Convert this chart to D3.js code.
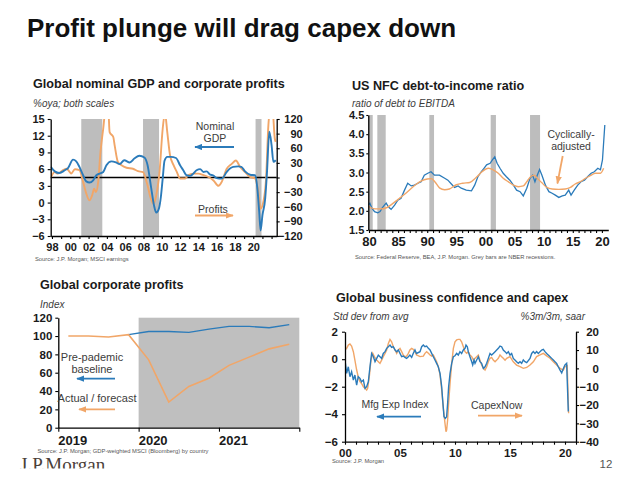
<!DOCTYPE html>
<html><head><meta charset="utf-8">
<script src="https://cdn.jsdelivr.net/npm/d3@7"></script>
<style>body{margin:0;background:#fff}svg{display:block}</style>
</head><body><script>
// ---------------- DATA ----------------
// Panel 1: Global nominal GDP (%oya, left) and corporate profits (%oya, right)
const p1Recessions = [[2001.2, 2003.5], [2007.95, 2009.7], [2020.25, 2020.9]];
const gdpSeries = [[1997.86,6.4],[1998.3,5.6],[1998.8,5.3],[1999.4,5.8],[1999.75,6.2],[2000.3,7.7],[2000.65,7.4],[2001.0,6.4],[2001.4,4.9],[2001.75,3.8],[2002.1,3.6],[2002.5,4.0],[2002.85,4.9],[2003.2,5.2],[2003.6,5.5],[2003.95,6.7],[2004.5,7.4],[2005.0,7.2],[2005.4,6.9],[2005.9,7.6],[2006.5,7.2],[2007.0,7.9],[2007.55,8.4],[2008.1,8.1],[2008.45,6.7],[2008.8,3.1],[2009.15,-0.5],[2009.4,-1.8],[2009.7,-1.0],[2009.9,1.0],[2010.1,4.3],[2010.3,7.5],[2010.6,8.2],[2011.0,8.2],[2011.55,8.0],[2012.0,6.7],[2012.35,5.8],[2012.7,4.9],[2013.1,4.8],[2013.45,5.2],[2013.8,5.8],[2014.2,6.0],[2014.55,5.5],[2014.9,5.6],[2015.3,5.0],[2015.6,4.9],[2016.0,4.4],[2016.55,4.3],[2017.1,5.5],[2017.45,6.1],[2017.8,6.4],[2018.35,6.5],[2018.7,6.4],[2019.1,5.6],[2019.65,5.0],[2020.2,4.9],[2020.45,2.5],[2020.65,-1.7],[2020.8,-5.0],[2021.0,-2.3],[2021.3,0.7],[2021.5,5.5],[2021.75,12.7],[2022.0,10.3],[2022.2,7.3],[2022.45,7.6]];
const profitsSeries = [[1997.9,1],[1998.3,11],[1998.65,8],[1999.2,15],[1999.6,18],[1999.95,11],[2000.1,8],[2000.5,17],[2001.0,15],[2001.4,-9],[2001.75,-33],[2002.1,-47],[2002.4,-36],[2002.6,-23],[2002.8,-30],[2003.05,-9],[2003.3,52],[2003.6,100],[2003.85,138],[2004.15,140],[2004.3,93],[2004.7,83],[2004.85,66],[2005.2,32],[2005.6,25],[2006.15,20],[2006.85,18],[2007.4,13],[2007.95,11],[2008.4,-13],[2008.8,-43],[2009.1,-54],[2009.4,-36],[2009.75,11],[2010.1,100],[2010.35,132],[2010.6,93],[2010.9,46],[2011.3,25],[2011.65,11],[2012.0,-2],[2012.55,-2],[2012.9,5],[2013.45,8],[2014.0,8],[2014.55,5],[2015.1,1],[2015.65,-6],[2016.2,-17],[2016.55,-9],[2017.1,18],[2017.65,28],[2018.1,35],[2018.55,22],[2019.1,11],[2019.65,1],[2020.2,-2],[2020.55,-30],[2020.8,-64],[2021.1,-50],[2021.4,-2],[2021.65,107],[2021.85,140],[2022.1,140],[2022.35,80],[2022.45,73]];
const p1LeftTicks = [-6,-3,0,3,6,9,12,15];
const p1RightTicks = [-120,-90,-60,-30,0,30,60,90,120];
const p1YearLabels = [1998,2000,2002,2004,2006,2008,2010,2012,2014,2016,2018,2020];

// Panel 2: US NFC debt-to-income ratio
const p2Recessions = [[1979.88,1980.64],[1981.43,1982.87],[1990.36,1991.17],[2000.9,2001.8],[2007.66,2009.38]];
const debtActual = [[1979.88,2.15],[1980.15,2.2],[1980.5,2.07],[1980.95,1.98],[1981.5,1.95],[1981.9,1.98],[1982.25,2.07],[1982.65,2.15],[1982.95,2.2],[1983.35,2.1],[1983.8,2.04],[1984.4,2.15],[1984.95,2.28],[1985.5,2.33],[1986.1,2.54],[1986.65,2.72],[1987.25,2.65],[1987.8,2.67],[1988.4,2.72],[1988.95,2.76],[1989.5,2.93],[1990.1,2.98],[1990.65,3.02],[1991.25,2.93],[1992.1,2.93],[1993.0,2.85],[1993.55,2.8],[1994.15,2.7],[1994.7,2.61],[1995.3,2.65],[1995.85,2.59],[1996.7,2.54],[1997.6,2.52],[1998.15,2.67],[1998.7,2.89],[1999.3,3.02],[1999.75,3.11],[2000.2,3.2],[2000.8,3.24],[2001.2,3.33],[2001.6,3.41],[2002.0,3.24],[2002.5,3.11],[2003.05,2.98],[2003.6,2.89],[2004.2,2.8],[2004.8,2.67],[2005.35,2.54],[2005.95,2.5],[2006.5,2.39],[2007.1,2.59],[2007.65,2.85],[2008.1,2.93],[2008.5,2.76],[2008.9,2.93],[2009.3,3.08],[2009.7,2.93],[2010.3,2.67],[2010.9,2.5],[2011.45,2.46],[2012.0,2.41],[2012.6,2.35],[2013.2,2.39],[2013.7,2.41],[2014.3,2.54],[2014.7,2.41],[2015.25,2.54],[2015.85,2.67],[2016.4,2.76],[2017.0,2.8],[2017.55,2.89],[2018.15,2.98],[2018.7,3.02],[2019.3,3.11],[2019.75,3.07],[2020.1,3.33],[2020.5,4.24]];
const debtCyclical = [[1979.9,2.12],[1981,2.05],[1982,2.05],[1983,2.08],[1984,2.18],[1985,2.3],[1986,2.42],[1987,2.55],[1988,2.68],[1989,2.78],[1990,2.83],[1990.7,2.84],[1991.3,2.76],[1992.1,2.6],[1993,2.55],[1993.8,2.57],[1995,2.68],[1996.1,2.72],[1997.3,2.74],[1998.4,2.87],[1999.4,3.02],[2000.5,3.11],[2001.3,3.07],[2002.2,2.98],[2003.05,2.85],[2003.9,2.76],[2004.8,2.67],[2005.65,2.63],[2006.5,2.65],[2007.1,2.76],[2007.75,2.89],[2008.35,2.93],[2008.9,2.85],[2009.7,2.73],[2010.55,2.61],[2011.45,2.57],[2012.6,2.56],[2013.7,2.57],[2014.6,2.61],[2015.4,2.7],[2016.3,2.76],[2017.2,2.85],[2018.0,2.92],[2018.9,2.98],[2019.75,2.98],[2020.3,3.11]];
const p2Ticks = [1.5,2.0,2.5,3.0,3.5,4.0,4.5];

// Panel 3: Global corporate profits index (quarterly, 2019Q1-2021Q4)
const p3Quarters = [2019.125,2019.375,2019.625,2019.875,2020.125,2020.375,2020.625,2020.875,2021.125,2021.375,2021.625,2021.875];
const actualForecast = [100,100,99,101.5,74,28,45,54,68,77,86,91];
const prePandemic = [null,null,null,101.5,105,105,104,107.5,110.5,110.5,109,112.5];
const p3Years = [2019,2020,2021];
const p3Ticks = [0,20,40,60,80,100,120];

// Panel 4: Global business confidence (std dev, left) and CapexNow (%3m/3m saar, right)
const mfgExp = [[2000.0,-0.06],[2000.15,-1.03],[2000.3,-0.55],[2000.45,-1.27],[2000.6,-0.91],[2000.76,-1.52],[2000.9,-1.15],[2001.06,-1.88],[2001.2,-1.27],[2001.36,-1.39],[2001.5,-1.64],[2001.67,-1.52],[2001.82,-2.12],[2001.97,-2.0],[2002.12,-1.64],[2002.27,-0.55],[2002.42,0.42],[2002.58,0.18],[2002.73,-0.18],[2002.88,0.06],[2003.03,0.3],[2003.18,0.18],[2003.33,0.06],[2003.48,0.42],[2003.64,0.55],[2003.79,0.79],[2003.94,0.91],[2004.09,1.03],[2004.24,0.86],[2004.39,0.91],[2004.55,0.67],[2004.7,0.55],[2004.85,0.67],[2005.0,0.42],[2005.15,0.18],[2005.3,0.23],[2005.45,0.13],[2005.6,0.06],[2005.76,0.18],[2005.9,0.3],[2006.06,0.13],[2006.2,0.42],[2006.36,0.67],[2006.5,0.42],[2006.82,0.55],[2006.97,0.91],[2007.12,1.03],[2007.27,0.91],[2007.42,0.96],[2007.58,0.79],[2007.73,0.67],[2007.88,0.42],[2008.03,0.18],[2008.18,-0.06],[2008.33,-0.3],[2008.48,-0.55],[2008.64,-1.03],[2008.79,-2.0],[2008.88,-2.97],[2009.0,-4.18],[2009.12,-4.3],[2009.24,-4.18],[2009.33,-3.21],[2009.42,-2.0],[2009.55,-1.03],[2009.7,-0.3],[2009.85,0.18],[2010.0,0.25],[2010.15,0.42],[2010.3,0.3],[2010.45,0.55],[2010.6,0.42],[2010.76,0.67],[2010.91,0.79],[2011.0,1.03],[2011.12,0.91],[2011.21,0.55],[2011.36,0.18],[2011.52,-0.18],[2011.61,-0.42],[2011.73,-0.06],[2011.82,-0.3],[2011.97,-0.06],[2012.12,0.18],[2012.27,-0.18],[2012.42,-0.3],[2012.58,-0.67],[2012.73,-0.55],[2012.88,-0.3],[2013.03,0.06],[2013.18,0.42],[2013.33,0.3],[2013.48,0.42],[2013.64,0.55],[2013.79,0.67],[2013.94,0.79],[2014.09,0.96],[2014.24,0.91],[2014.39,0.67],[2014.55,0.55],[2014.7,0.42],[2014.85,0.55],[2015.0,0.3],[2015.15,0.42],[2015.3,0.06],[2015.45,-0.06],[2015.6,-0.18],[2015.76,-0.3],[2015.91,-0.18],[2016.06,-0.3],[2016.21,-0.06],[2016.36,-0.18],[2016.52,-0.25],[2016.82,0.06],[2016.97,0.42],[2017.12,0.55],[2017.27,0.42],[2017.42,0.55],[2017.58,0.42],[2017.73,0.55],[2017.88,0.67],[2018.03,0.72],[2018.18,0.55],[2018.33,0.42],[2018.48,0.3],[2018.64,0.18],[2018.79,0.06],[2018.94,-0.06],[2019.09,-0.18],[2019.24,-0.3],[2019.39,-0.55],[2019.55,-0.79],[2019.7,-1.0],[2019.85,-0.67],[2020.0,-0.42],[2020.15,-0.3],[2020.3,-3.8]];
const capexNow = [[2000.0,10],[2000.15,10.9],[2000.3,12.7],[2000.45,13.3],[2000.6,12.2],[2000.76,9.1],[2000.9,4.5],[2001.06,-0.9],[2001.2,-4.5],[2001.36,-7.3],[2001.5,-8.2],[2001.67,-10],[2001.82,-10.9],[2001.97,-11.8],[2002.06,-10.9],[2002.21,-4.5],[2002.36,4.5],[2002.52,8.2],[2002.67,6.4],[2002.88,4.5],[2003.03,3.6],[2003.18,2.7],[2003.33,4.5],[2003.48,6.4],[2003.64,8.2],[2003.79,10],[2003.94,13.6],[2004.09,15.8],[2004.24,14.5],[2004.39,11.8],[2004.55,10],[2004.7,8.2],[2004.85,10],[2005.0,10.9],[2005.15,9.1],[2005.3,7.3],[2005.45,6.4],[2005.6,6.7],[2005.76,8.2],[2005.9,10],[2006.06,10.9],[2006.2,10.4],[2006.36,9.1],[2006.5,7.3],[2006.82,6.4],[2007.12,6.7],[2007.27,8.2],[2007.42,9.1],[2007.58,8.2],[2007.73,7.3],[2007.88,6.7],[2008.03,7.3],[2008.18,5.5],[2008.33,3.6],[2008.48,0.9],[2008.64,-3.6],[2008.79,-11.8],[2008.94,-21.8],[2009.09,-30],[2009.18,-34.5],[2009.24,-33.6],[2009.33,-28.2],[2009.42,-19.1],[2009.55,-8.2],[2009.7,2.7],[2009.85,10.9],[2010.0,14.5],[2010.15,15.5],[2010.3,15.8],[2010.45,15.8],[2010.6,14.5],[2010.76,11.8],[2010.91,9.1],[2011.06,8.2],[2011.21,9.1],[2011.36,7.3],[2011.52,6.4],[2011.67,4.5],[2011.82,5.5],[2011.97,6.4],[2012.12,7.3],[2012.27,4.5],[2012.42,1.8],[2012.58,0],[2012.73,-0.9],[2012.88,0.9],[2013.03,3.6],[2013.18,5.5],[2013.33,6],[2013.48,4.5],[2013.64,3.6],[2013.79,4.5],[2013.94,5.5],[2014.09,7.3],[2014.24,6.4],[2014.39,5.5],[2014.55,4.5],[2014.7,5.5],[2015.0,6.4],[2015.3,3.6],[2015.6,1.8],[2015.91,0.9],[2016.21,0],[2016.52,0.5],[2016.82,1.8],[2017.12,3.6],[2017.42,6.4],[2017.73,7.3],[2018.03,8.2],[2018.33,6.8],[2018.64,5.5],[2018.94,3.6],[2019.24,1.8],[2019.55,0],[2019.85,-0.9],[2020.0,0.9],[2020.2,1.5],[2020.33,-24.5]];
const p4LeftTicks = [-6,-4,-2,0,2];
const p4RightTicks = [-40,-30,-20,-10,0,10,20];

// ---------------- DRAWING ----------------
const FONT = '"Liberation Sans", Arial, sans-serif';
const BLUE = '#2b7bba', ORANGE = '#f1a668', GREY = '#bdbdbd', TXT = '#1a1a1a', SUB = '#3c3c3c';
const svg = d3.select('body').append('svg').attr('width', 630).attr('height', 486).style('background', '#fff');
const defs = svg.append('defs');
[['blue', BLUE], ['orange', ORANGE]].forEach(([n, c]) => {
  defs.append('marker').attr('id', 'arr-' + n).attr('viewBox', '0 0 10 8').attr('refX', 9).attr('refY', 4)
    .attr('markerWidth', 8).attr('markerHeight', 6.5).attr('markerUnits', 'userSpaceOnUse').attr('orient', 'auto')
    .append('path').attr('d', 'M0,0L10,4L0,8Z').attr('fill', c);
});
function text(x, y, s, o = {}) {
  return svg.append('text').attr('x', x).attr('y', y).text(s)
    .attr('font-family', o.family || FONT).attr('font-size', o.size || 10)
    .attr('font-weight', o.weight || 'normal').attr('font-style', o.style || 'normal')
    .attr('fill', o.fill || TXT).attr('text-anchor', o.anchor || 'start');
}
function arrow(x1, y1, x2, y2, color, name) {
  svg.append('line').attr('x1', x1).attr('y1', y1).attr('x2', x2).attr('y2', y2)
    .attr('stroke', color).attr('stroke-width', 1.8).attr('marker-end', `url(#arr-${name})`);
}
function clip(id, p) {
  defs.append('clipPath').attr('id', id).append('rect').attr('x', p.l).attr('y', p.t).attr('width', p.r - p.l).attr('height', p.b - p.t);
}
function styleAxis(g, size) {
  g.attr('font-family', FONT);
  g.select('.domain').attr('stroke', '#000').attr('stroke-width', 1.3);
  g.selectAll('.tick line').attr('stroke', '#000').attr('stroke-width', 1.1);
  g.selectAll('.tick text').attr('font-size', size).attr('font-weight', 'bold').attr('fill', TXT);
  return g;
}
const pad2 = d => String(((d % 100) + 100) % 100).padStart(2, '0');

// Main title
text(27, 37, 'Profit plunge will drag capex down', { size: 26, weight: 'bold', fill: '#111' });

// ===== Panel 1 =====
{
  const p = { l: 50.7, r: 276.7, t: 119, b: 236 };
  clip('c1', p);
  const x = d3.scaleLinear().domain([1997.86, 2022.56]).range([p.l, p.r]);
  const yL = d3.scaleLinear().domain([-6, 15]).range([p.b, p.t]);
  const yR = d3.scaleLinear().domain([-120, 120]).range([p.b, p.t]);
  svg.append('g').selectAll('rect').data(p1Recessions).join('rect')
    .attr('x', d => x(d[0])).attr('width', d => x(d[1]) - x(d[0])).attr('y', p.t).attr('height', p.b - p.t).attr('fill', GREY);
  svg.append('line').attr('x1', p.l).attr('x2', p.r).attr('y1', yR(0)).attr('y2', yR(0)).attr('stroke', '#000').attr('stroke-width', 1.3);
  const lg = svg.append('g').attr('clip-path', 'url(#c1)');
  lg.append('path').datum(profitsSeries).attr('fill', 'none').attr('stroke', ORANGE).attr('stroke-width', 1.9)
    .attr('d', d3.line().x(d => x(d[0])).y(d => yR(d[1])).curve(d3.curveMonotoneX));
  lg.append('path').datum(gdpSeries).attr('fill', 'none').attr('stroke', BLUE).attr('stroke-width', 1.9)
    .attr('d', d3.line().x(d => x(d[0])).y(d => yL(d[1])).curve(d3.curveMonotoneX));
  styleAxis(svg.append('g').attr('transform', `translate(${p.l},0)`)
    .call(d3.axisLeft(yL).tickValues(p1LeftTicks).tickSize(3).tickSizeOuter(0).tickPadding(3)), 11);
  const gr = styleAxis(svg.append('g').attr('transform', `translate(${p.r},0)`)
    .call(d3.axisRight(yR).tickValues(p1RightTicks).tickSize(3).tickSizeOuter(0).tickPadding(3)), 11);
  gr.selectAll('.tick text').attr('text-anchor', 'end').attr('x', 26);
  styleAxis(svg.append('g').attr('transform', `translate(0,${p.b})`)
    .call(d3.axisBottom(x).tickValues(d3.range(1998, 2023)).tickSize(3).tickSizeOuter(0).tickPadding(4)
      .tickFormat(d => p1YearLabels.includes(d) ? pad2(d) : '')), 11);
  text(33, 88, 'Global nominal GDP and corporate profits', { size: 12.6, weight: 'bold' });
  text(33, 107, '%oya; both scales', { size: 10, style: 'italic', fill: SUB });
  text(35, 260.5, 'Source: J.P. Morgan; MSCI earnings', { size: 5.8, fill: '#555' });
  text(215, 130, 'Nominal', { size: 10.5, anchor: 'middle', fill: SUB });
  text(215, 142, 'GDP', { size: 10.5, anchor: 'middle', fill: SUB });
  arrow(234, 147, 195, 147, BLUE, 'blue');
  text(213, 212.5, 'Profits', { size: 10.5, anchor: 'middle', fill: SUB });
  arrow(195, 215.5, 233, 215.5, ORANGE, 'orange');
}

// ===== Panel 2 =====
{
  const p = { l: 368.3, r: 608.3, t: 115, b: 230 };
  clip('c2', p);
  const x = d3.scaleLinear().domain([1979.88, 2021.1]).range([p.l, p.r]);
  const y = d3.scaleLinear().domain([1.5, 4.5]).range([p.b, p.t]);
  svg.append('g').selectAll('rect').data(p2Recessions).join('rect')
    .attr('x', d => x(d[0])).attr('width', d => x(d[1]) - x(d[0])).attr('y', p.t).attr('height', p.b - p.t).attr('fill', GREY);
  const lg = svg.append('g').attr('clip-path', 'url(#c2)');
  lg.append('path').datum(debtActual).attr('fill', 'none').attr('stroke', BLUE).attr('stroke-width', 1.3)
    .attr('d', d3.line().x(d => x(d[0])).y(d => y(d[1])));
  lg.append('path').datum(debtCyclical).attr('fill', 'none').attr('stroke', ORANGE).attr('stroke-width', 1.4)
    .attr('d', d3.line().x(d => x(d[0])).y(d => y(d[1])).curve(d3.curveMonotoneX));
  styleAxis(svg.append('g').attr('transform', `translate(${p.l},0)`)
    .call(d3.axisLeft(y).tickValues(p2Ticks).tickSize(2).tickSizeOuter(0).tickPadding(2).tickFormat(d3.format('.1f'))), 11);
  styleAxis(svg.append('g').attr('transform', `translate(0,${p.b})`)
    .call(d3.axisBottom(x).tickValues(d3.range(1980, 2021)).tickSize(3).tickSizeOuter(0).tickPadding(4)
      .tickFormat(d => d % 5 === 0 ? pad2(d) : '')), 13);
  text(352, 89.5, 'US NFC debt-to-income ratio', { size: 12.6, weight: 'bold' });
  text(352, 107, 'ratio of debt to EBITDA', { size: 10, style: 'italic', fill: SUB });
  text(355, 258.5, 'Source: Federal Reserve, BEA, J.P. Morgan. Grey bars are NBER recessions.', { size: 5.8, fill: '#555' });
  text(571, 138, 'Cyclically-', { size: 10.5, anchor: 'middle', fill: SUB });
  text(571, 149.5, 'adjusted', { size: 10.5, anchor: 'middle', fill: SUB });
  arrow(562.7, 156, 557.4, 183.5, ORANGE, 'orange');
}

// ===== Panel 3 =====
{
  const p = { l: 58.3, r: 299.3, t: 317.7, b: 427.7 };
  const x = d3.scaleLinear().domain([2019, 2022]).range([p.l, p.r]);
  const y = d3.scaleLinear().domain([0, 120]).range([p.b, p.t]);
  svg.append('rect').attr('x', x(2020)).attr('width', p.r - x(2020)).attr('y', p.t).attr('height', p.b - p.t).attr('fill', '#bfbfbf');
  const pts = (vals) => p3Quarters.map((q, i) => [q, vals[i]]);
  const line = d3.line().defined(d => d[1] != null).x(d => x(d[0])).y(d => y(d[1]));
  svg.append('path').datum(pts(prePandemic)).attr('fill', 'none').attr('stroke', BLUE).attr('stroke-width', 1.4).attr('d', line);
  svg.append('path').datum(pts(actualForecast)).attr('fill', 'none').attr('stroke', ORANGE).attr('stroke-width', 1.6).attr('d', line);
  styleAxis(svg.append('g').attr('transform', `translate(${p.l},0)`)
    .call(d3.axisLeft(y).tickValues(p3Ticks).tickSize(3).tickSizeOuter(0).tickPadding(3)), 11.5);
  const gb = styleAxis(svg.append('g').attr('transform', `translate(0,${p.b})`)
    .call(d3.axisBottom(x).tickValues([...p3Years, 2022]).tickSize(4).tickSizeOuter(0).tickPadding(4)
      .tickFormat(d => p3Years.includes(d) ? String(d) : '')), 13);
  gb.selectAll('.tick text').attr('dx', 14);
  text(40, 289, 'Global corporate profits', { size: 12.6, weight: 'bold' });
  text(40, 307.5, 'Index', { size: 10, style: 'italic', fill: SUB });
  text(92, 361, 'Pre-pademic', { size: 11, anchor: 'middle', fill: SUB });
  text(92, 373, 'baseline', { size: 11, anchor: 'middle', fill: SUB });
  arrow(115, 378.7, 77, 378.7, BLUE, 'blue');
  text(97, 402, 'Actual / forecast', { size: 11, anchor: 'middle', fill: SUB });
  arrow(115, 409.3, 79, 409.3, ORANGE, 'orange');
  text(37.5, 452.5, 'Source: J.P. Morgan; GDP-weighted MSCI (Bloomberg) by country', { size: 5.8, fill: '#555' });
}

// ===== Panel 4 =====
{
  const p = { l: 345, r: 576, t: 331.7, b: 441.7 };
  clip('c4', p);
  const x = d3.scaleLinear().domain([2000, 2021]).range([p.l, p.r]);
  const yL = d3.scaleLinear().domain([-6, 2]).range([p.b, p.t]);
  const yR = d3.scaleLinear().domain([-40, 20]).range([p.b, p.t]);
  const lg = svg.append('g').attr('clip-path', 'url(#c4)');
  lg.append('path').datum(capexNow).attr('fill', 'none').attr('stroke', ORANGE).attr('stroke-width', 1.4)
    .attr('d', d3.line().x(d => x(d[0])).y(d => yR(d[1])));
  lg.append('path').datum(mfgExp).attr('fill', 'none').attr('stroke', BLUE).attr('stroke-width', 1.4)
    .attr('d', d3.line().x(d => x(d[0])).y(d => yL(d[1])));
  styleAxis(svg.append('g').attr('transform', `translate(${p.l},0)`)
    .call(d3.axisLeft(yL).tickValues(p4LeftTicks).tickSize(3).tickSizeOuter(0).tickPadding(4)), 11.5);
  const gr = styleAxis(svg.append('g').attr('transform', `translate(${p.r},0)`)
    .call(d3.axisRight(yR).tickValues(p4RightTicks).tickSize(3).tickSizeOuter(0).tickPadding(3)), 11.5);
  gr.selectAll('.tick text').attr('text-anchor', 'end').attr('x', 23);
  styleAxis(svg.append('g').attr('transform', `translate(0,${p.b})`)
    .call(d3.axisBottom(x).tickValues(d3.range(2000, 2022)).tickSize(3).tickSizeOuter(0).tickPadding(4)
      .tickFormat(d => d % 5 === 0 ? pad2(d) : '')), 11.5);
  text(336, 302, 'Global business confidence and capex', { size: 12.6, weight: 'bold' });
  text(333, 319.5, 'Std dev from avg', { size: 10, style: 'italic', fill: SUB });
  text(585, 319.5, '%3m/3m, saar', { size: 10, style: 'italic', fill: SUB, anchor: 'end' });
  text(395, 408, 'Mfg Exp Index', { size: 10.5, anchor: 'middle', fill: SUB });
  arrow(421, 416.7, 377, 416.7, BLUE, 'blue');
  text(496.7, 409, 'CapexNow', { size: 10.5, anchor: 'middle', fill: SUB });
  arrow(478, 415.7, 522, 415.7, ORANGE, 'orange');
  text(332, 463, 'Source: J.P. Morgan', { size: 5.8, fill: '#555' });
}

// Footer
defs.append('clipPath').attr('id', 'logoclip').append('rect').attr('x', 0).attr('y', 440).attr('width', 200).attr('height', 28.5);
svg.append('text').attr('x', 20).attr('y', 471).text('J.P.Morgan').attr('font-family', '"Liberation Serif", "Times New Roman", serif')
  .attr('font-size', 19).attr('fill', '#4a4038').attr('clip-path', 'url(#logoclip)');
text(606, 468, '12', { size: 11.5, anchor: 'middle', fill: '#555' });
</script></body></html>
